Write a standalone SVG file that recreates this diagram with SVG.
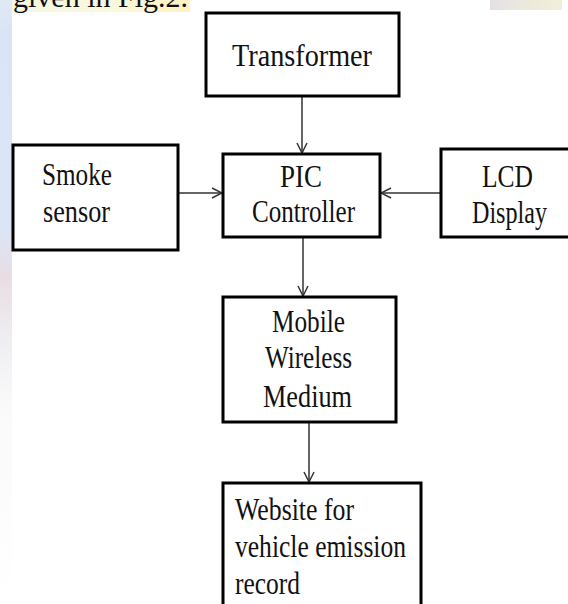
<svg xmlns="http://www.w3.org/2000/svg" width="568" height="604" viewBox="0 0 568 604">
  <style>
    .box { fill: #ffffff; stroke: #000000; stroke-width: 3; }
    .lbl { font-family: "Liberation Serif", "Times New Roman", serif; font-size: 31px; fill: #111111; }
    .conn { stroke: #333333; stroke-width: 1.5; fill: none; }
  </style>
  <defs>
    <marker id="arr" viewBox="0 0 12 12" refX="11" refY="6" markerWidth="12" markerHeight="12" markerUnits="userSpaceOnUse" orient="auto">
      <path d="M1,1 L11,6 L1,11" fill="none" stroke="#333333" stroke-width="1.5"/>
    </marker>
    <linearGradient id="strip" x1="0" y1="0" x2="0" y2="1">
      <stop offset="0" stop-color="#dfeaf2"/>
      <stop offset="0.05" stop-color="#d9e5f6"/>
      <stop offset="0.38" stop-color="#dbe5f5"/>
      <stop offset="0.46" stop-color="#e9dde3"/>
      <stop offset="0.56" stop-color="#eeeef2"/>
      <stop offset="0.68" stop-color="#fafafa"/>
      <stop offset="1" stop-color="#ffffff"/>
    </linearGradient>
    <linearGradient id="topband" x1="0" y1="0" x2="1" y2="0">
      <stop offset="0" stop-color="#f4f7e4"/>
      <stop offset="0.6" stop-color="#fbf8dc"/>
      <stop offset="1" stop-color="#fdf3c0"/>
    </linearGradient>
    <linearGradient id="smudge" x1="0" y1="0" x2="1" y2="0">
      <stop offset="0" stop-color="#e4e0e6"/>
      <stop offset="0.5" stop-color="#ece9dc"/>
      <stop offset="1" stop-color="#f1eed8"/>
    </linearGradient>
  </defs>

  <rect x="0" y="0" width="568" height="604" fill="#ffffff"/>
  <rect x="0" y="0" width="12" height="604" fill="url(#strip)"/>
  <rect x="12" y="0" width="178" height="12" fill="url(#topband)"/>
  <rect x="490" y="0" width="72" height="10" fill="url(#smudge)"/>
  <text x="13" y="7" style="font-family: 'Liberation Serif', 'Times New Roman', serif; font-size: 30px; fill: #111111;">given in Fig.2.</text>

  <g id="connectors">
    <line class="conn" x1="302" y1="97" x2="302" y2="153" marker-end="url(#arr)"/>
    <line class="conn" x1="178" y1="193" x2="222" y2="193" marker-end="url(#arr)"/>
    <line class="conn" x1="441" y1="193" x2="381" y2="193" marker-end="url(#arr)"/>
    <line class="conn" x1="303" y1="238" x2="303" y2="296" marker-end="url(#arr)"/>
    <line class="conn" x1="309" y1="423" x2="309" y2="482" marker-end="url(#arr)"/>
  </g>

  <g id="transformer">
    <rect class="box" x="206" y="13" width="193" height="83"/>
    <text class="lbl" x="232" y="66" textLength="140" lengthAdjust="spacingAndGlyphs">Transformer</text>
  </g>

  <g id="smoke-sensor">
    <rect class="box" x="13" y="145" width="165" height="105"/>
    <text class="lbl" x="42" y="185" textLength="70" lengthAdjust="spacingAndGlyphs">Smoke</text>
    <text class="lbl" x="43" y="222" textLength="67" lengthAdjust="spacingAndGlyphs">sensor</text>
  </g>

  <g id="pic-controller">
    <rect class="box" x="223" y="154" width="157" height="83"/>
    <text class="lbl" x="280" y="187" textLength="42" lengthAdjust="spacingAndGlyphs">PIC</text>
    <text class="lbl" x="252" y="222" textLength="103" lengthAdjust="spacingAndGlyphs">Controller</text>
  </g>

  <g id="lcd-display">
    <rect class="box" x="441" y="149" width="140" height="88"/>
    <text class="lbl" x="482" y="187" textLength="51" lengthAdjust="spacingAndGlyphs">LCD</text>
    <text class="lbl" x="472" y="223" textLength="75" lengthAdjust="spacingAndGlyphs">Display</text>
  </g>

  <g id="mobile-wireless">
    <rect class="box" x="223" y="297" width="173" height="125"/>
    <text class="lbl" x="272" y="332" textLength="73" lengthAdjust="spacingAndGlyphs">Mobile</text>
    <text class="lbl" x="265" y="368" textLength="87" lengthAdjust="spacingAndGlyphs">Wireless</text>
    <text class="lbl" x="263" y="407" textLength="89" lengthAdjust="spacingAndGlyphs">Medium</text>
  </g>

  <g id="website">
    <rect class="box" x="223" y="483" width="198" height="140"/>
    <text class="lbl" x="235" y="520" textLength="119" lengthAdjust="spacingAndGlyphs">Website for</text>
    <text class="lbl" x="235" y="557" textLength="171" lengthAdjust="spacingAndGlyphs">vehicle emission</text>
    <text class="lbl" x="235" y="594" textLength="65" lengthAdjust="spacingAndGlyphs">record</text>
  </g>
</svg>
